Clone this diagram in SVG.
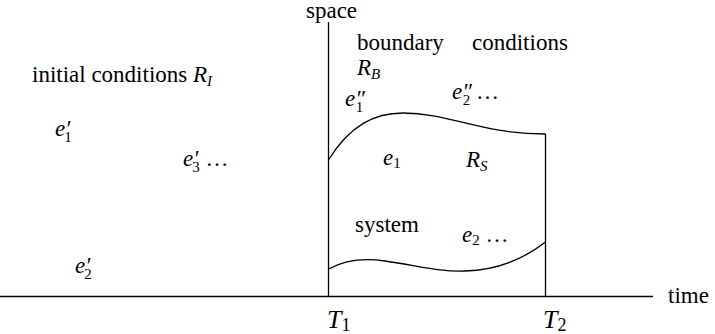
<svg xmlns="http://www.w3.org/2000/svg" width="715" height="334" viewBox="0 0 715 334">
<style>
text{font-family:"Liberation Serif","Times New Roman",serif;font-size:23px;fill:#000}
.m{font-style:italic}
.s{font-size:15px;font-style:normal}
.si{font-size:15px}
.t{font-size:26px;font-style:italic}
.ts{font-size:18px;font-style:normal}
.line{stroke:#000;stroke-width:1.3;fill:none}
</style>
<rect width="715" height="334" fill="#fff"/>
<g id="connectors">
<line class="line" x1="0" y1="296.5" x2="653" y2="296.5"/>
<line class="line" x1="328.5" y1="22" x2="328.5" y2="296.5"/>
<line class="line" x1="545.5" y1="134" x2="545.5" y2="296.5"/>
<path class="line" d="M328.5,160 C350,125 375,113 403,113 C450,113 480,134 545.5,134"/>
<path class="line" d="M328.5,269 C345,260 365,258 385,261 C420,266 440,272 465,271 C500,270 525,258 545.5,242"/>
</g>
<g id="axis-labels">
<text x="306" y="18">space</text>
<text x="668" y="303">time</text>
<text class="t" x="327" y="328">T<tspan class="ts" dy="3">1</tspan></text>
<text class="t" x="543" y="328">T<tspan class="ts" dy="3">2</tspan></text>
</g>
<g id="initial">
<text x="32" y="82">initial conditions <tspan class="m">R<tspan class="si" dy="4">I</tspan></tspan></text>
<text class="m" x="55" y="136">e′<tspan class="s" dx="-6" dy="6">1</tspan></text>
<text class="m" x="183" y="166">e′<tspan class="s" dx="-6" dy="6">3</tspan><tspan dy="-6" font-style="normal"> …</tspan></text>
<text class="m" x="75" y="273">e′<tspan class="s" dx="-6" dy="6">2</tspan></text>
</g>
<g id="boundary">
<text x="357" y="50">boundary</text>
<text x="472" y="50">conditions</text>
<text class="m" x="357" y="75">R<tspan class="si" dy="4">B</tspan></text>
<text class="m" x="345" y="106">e″<tspan class="s" dx="-9" dy="6">1</tspan></text>
<text class="m" x="452" y="99">e″<tspan class="s" dx="-9" dy="6">2</tspan><tspan dy="-6" font-style="normal"> …</tspan></text>
</g>
<g id="system">
<text class="m" x="383" y="165">e<tspan class="s" dy="3">1</tspan></text>
<text class="m" x="466" y="167">R<tspan class="si" dy="4">S</tspan></text>
<text x="355" y="232">system</text>
<text class="m" x="462" y="242">e<tspan class="s" dy="3">2</tspan><tspan dy="-3" font-style="normal"> …</tspan></text>
</g>
</svg>
